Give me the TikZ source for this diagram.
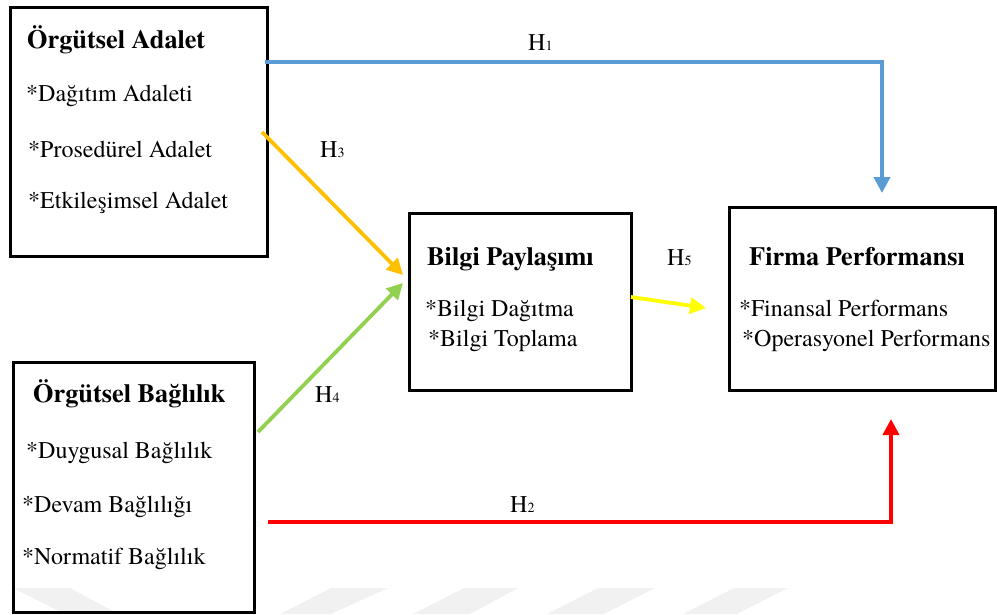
\documentclass[tikz,border=0pt]{standalone}
\usepackage{fontspec}
\setmainfont{texgyretermes}[Extension=.otf,UprightFont=*-regular,BoldFont=*-bold,ItalicFont=*-italic,BoldItalicFont=*-bolditalic]
\usetikzlibrary{arrows.meta}
\definecolor{cblue}{HTML}{5B9BD5}
\definecolor{corange}{HTML}{FFC000}
\definecolor{cgreen}{HTML}{92D050}
\definecolor{cyellow}{HTML}{FFFF00}
\definecolor{cred}{HTML}{FF0000}
\definecolor{wm}{HTML}{F1F1F1}
\newcommand\hsub[1]{{\fontsize{14}{14}\selectfont #1}}
\begin{document}
\begin{tikzpicture}[x=1pt,y=-1pt,
  box/.style={draw=black,line width=3pt,inner sep=0pt,outer sep=0pt,anchor=north west},
  txt/.style={anchor=base west,inner sep=0pt,font=\fontsize{24}{28}\selectfont},
  ttl/.style={anchor=base west,inner sep=0pt,font=\fontsize{26.3}{30}\selectfont\bfseries},
  conn/.style={line width=3.8pt,-{Triangle[length=16pt,width=16pt]}},
]
\useasboundingbox (0,0) rectangle (997,614);
% faint watermark
\fill[wm] (13,588) -- (70,588) -- (118,614) -- (65,614) -- cycle;
\fill[wm] (331,588) -- (388,588) -- (331,614) -- (280,614) -- cycle;
\fill[wm] (464,588) -- (518,588) -- (470,614) -- (413,614) -- cycle;
\fill[wm] (598,588) -- (655,588) -- (604,614) -- (547,614) -- cycle;
\fill[wm] (734,588) -- (788,588) -- (737,614) -- (683,614) -- cycle;

% boxes
\node[box,minimum width=257,minimum height=249] (oa) at (10,7) {};
\node[box,minimum width=241,minimum height=250] (ob) at (13,362) {};
\node[box,minimum width=222,minimum height=177] (bp) at (409,213) {};
\node[box,minimum width=266,minimum height=183] (fp) at (729,207) {};

% texts box 1
\node[ttl] (oat) at (27,48) {Örgütsel Adalet};
\node[txt] (oa1) at (26,101) {*Dağıtım Adaleti};
\node[txt] (oa2) at (28,157) {*Prosedürel Adalet};
\node[txt] (oa3) at (28,208) {*Etkileşimsel Adalet};
% texts box 2
\node[ttl] (obt) at (33,402) {Örgütsel Bağlılık};
\node[txt] (ob1) at (26,458) {*Duygusal Bağlılık};
\node[txt] (ob2) at (22,512) {*Devam Bağlılığı};
\node[txt] (ob3) at (22,564) {*Normatif Bağlılık};
% texts box 3
\node[ttl] (bpt) at (427,265) {Bilgi Paylaşımı};
\node[txt] (bp1) at (425,316) {*Bilgi Dağıtma};
\node[txt] (bp2) at (428,346) {*Bilgi Toplama};
% texts box 4
\node[ttl] (fpt) at (749,265) {Firma Performansı};
\node[txt] (fp1) at (739,316) {*Finansal Performans};
\node[txt] (fp2) at (742,346) {*Operasyonel Performans};

% connector end points
\coordinate (b1) at (265,62);
\coordinate (b2) at (882,193);
\coordinate (o1) at (262,132);
\coordinate (o2) at (403,275);
\coordinate (g1) at (258,432);
\coordinate (g2) at (403,283);
\coordinate (y1) at (631,297);
\coordinate (y2) at (706,308);
\coordinate (r1) at (268,522);
\coordinate (r2) at (891,419);

\draw[conn,cblue] (b1) -- (b2 |- b1) -- (b2);
\draw[conn,corange] (o1) -- (o2);
\draw[conn,cgreen] (g1) -- (g2);
\draw[conn,cyellow] (y1) -- (y2);
\draw[conn,cred] (r1) -| (r2);

% labels
\node[txt] (h1) at (528,50) {H\hsub{1}};
\node[txt] (h3) at (320,157) {H\hsub{3}};
\node[txt] (h4) at (315,402) {H\hsub{4}};
\node[txt] (h5) at (667,265) {H\hsub{5}};
\node[txt] (h2) at (510,512) {H\hsub{2}};
\end{tikzpicture}
\end{document}
